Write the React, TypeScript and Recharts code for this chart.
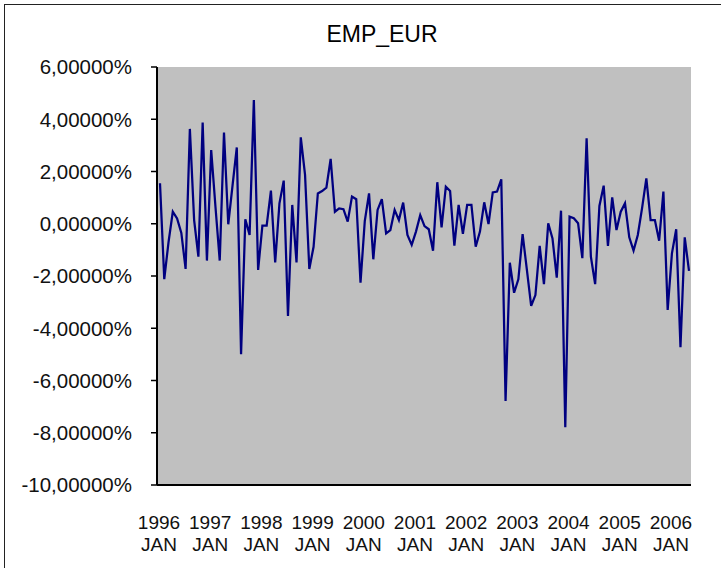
import { LineChart, Line, XAxis, YAxis, CartesianGrid } from "recharts";

// monthly EMP_EUR values in %, Jan 1996 .. May 2006
const empEur = [
  1.55, -2.12, -0.7, 0.46, 0.2, -0.35, -1.73, 3.63, 0.14, -1.26, 3.87, -1.41,
  2.82, 0.65, -1.41, 3.49, -0.02, 1.46, 2.92, -4.99, 0.17, -0.43, 4.74, -1.77,
  -0.07, -0.07, 1.27, -1.48, 0.78, 1.65, -3.53, 0.72, -1.48, 3.31, 1.87, -1.73,
  -0.88, 1.16, 1.25, 1.38, 2.48, 0.46, 0.59, 0.56, 0.08, 1.04, 0.94, -2.26,
  0.1, 1.16, -1.36, 0.53, 0.94, -0.37, -0.24, 0.53, 0.14, 0.81, -0.43, -0.81,
  -0.3, 0.33, -0.09, -0.21, -1.03, 1.59, -0.14, 1.42, 1.25, -0.84, 0.72, -0.39,
  0.72, 0.72, -0.88, -0.3, 0.82, -0.01, 1.2, 1.23, 1.7, -6.78, -1.49, -2.64,
  -2.13, -0.4, -1.77, -3.14, -2.73, -0.85, -2.31, 0.02, -0.56, -2.06, 0.5, -7.79,
  0.27, 0.21, 0.02, -1.32, 3.27, -1.26, -2.31, 0.68, 1.46, -0.85, 1.01, -0.24,
  0.46, 0.78, -0.52, -1.03, -0.43, 0.6, 1.74, 0.14, 0.14, -0.65, 1.23, -3.3,
  -1.13, -0.21, -4.73, -0.52, -1.8,
];

const years = ["1996", "1997", "1998", "1999", "2000", "2001", "2002", "2003", "2004", "2005", "2006"];
const months = ["JAN", "FEB", "MAR", "APR", "MAY", "JUN", "JUL", "AUG", "SEP", "OCT", "NOV", "DEC"];
const yTicks = [6, 4, 2, 0, -2, -4, -6, -8, -10];

const categories = years.flatMap((y) => months.map((m) => `${y} ${m}`)).slice(0, empEur.length);
const data = categories.map((month, i) => ({ month, emp: empEur[i] }));

const fmtPct = (v: number) => `${v.toFixed(5).replace(".", ",")}%`;
const font = "'Liberation Sans', Arial, sans-serif";

function MonthTick({ x, y, payload }: any) {
  const [yr, mo] = String(payload.value).split(" ");
  return (
    <g>
      <text x={x - 1} y={y + 44} textAnchor="middle" fontSize={19} fontFamily={font} fill="#111">{yr}</text>
      <text x={x - 1} y={y + 66} textAnchor="middle" fontSize={19} fontFamily={font} fill="#111">{mo}</text>
    </g>
  );
}

export default function App() {
  return (
    <div style={{ position: "absolute", left: 0, top: 0, width: 721, height: 568, background: "#fff", overflow: "hidden" }}>
      <div style={frame} />
      <div style={title}>EMP_EUR</div>
      <LineChart width={721} height={568} data={data} margin={{ top: 67, right: 30, bottom: 0, left: 0 }}>
        <CartesianGrid fill="#c0c0c0" horizontal={false} vertical={false} />
        <XAxis
          dataKey="month"
          height={83}
          interval={11}
          padding={{ left: 3, right: 2 }}
          tickSize={0}
          tickMargin={0}
          tickLine={false}
          tick={<MonthTick />}
          axisLine={{ stroke: "#000", strokeWidth: 2 }}
        />
        <XAxis xAxisId="top" dataKey="month" orientation="top" height={0} tick={false} tickLine={false}
          axisLine={{ stroke: "#808080", strokeWidth: 2 }} />
        <YAxis
          width={157}
          domain={[-10, 6]}
          ticks={yTicks}
          tickFormatter={fmtPct}
          tickSize={6}
          tickMargin={19}
          interval={0}
          tick={{ fontSize: 20.5, fontFamily: font, fill: "#111" }}
          tickLine={{ stroke: "#000", strokeWidth: 1.5 }}
          axisLine={{ stroke: "#000", strokeWidth: 2 }}
        />
        <YAxis yAxisId="right" orientation="right" width={0} domain={[-10, 6]} tick={false} tickLine={false}
          axisLine={{ stroke: "#808080", strokeWidth: 2 }} />
        <Line type="linear" dataKey="emp" stroke="#000080" strokeWidth={2.25} dot={false} isAnimationActive={false} />
      </LineChart>
    </div>
  );
}

const frame: React.CSSProperties = {
  position: "absolute", left: 4, top: 4, width: 800, height: 700,
  borderTop: "1.5px solid #222", borderLeft: "1.5px solid #222",
};
const title: React.CSSProperties = {
  position: "absolute", left: 282, top: 22.5, width: 200, textAlign: "center",
  fontFamily: font, fontSize: 23, lineHeight: "23px", color: "#000",
};
